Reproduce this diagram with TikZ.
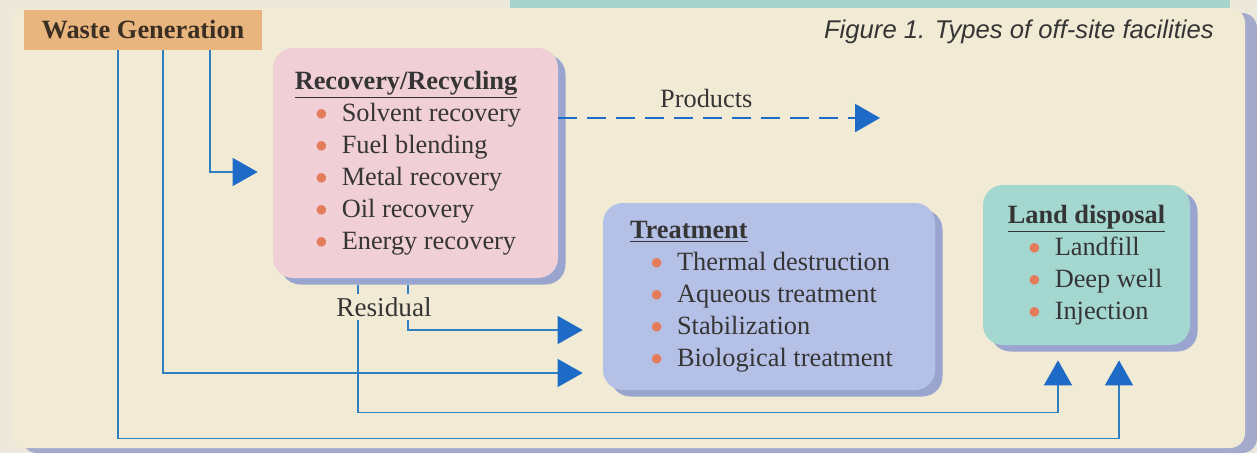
\documentclass[tikz,border=0pt]{standalone}
\usepackage{fontspec}
\setmainfont{Liberation Serif}
\newfontfamily\capfont{Liberation Sans}
\newfontfamily\dotfont{DejaVu Sans}
\usetikzlibrary{arrows.meta,shadows}

\definecolor{paper}{HTML}{ECE8DC}
\definecolor{panelcream}{HTML}{F1EBD6}
\definecolor{panelshadow}{HTML}{A3AACB}
\definecolor{stripteal}{HTML}{A8D4CC}
\definecolor{wasteorange}{HTML}{E9B57E}
\definecolor{wastebrown}{HTML}{3B2E22}
\definecolor{recovpink}{HTML}{F1CFD7}
\definecolor{treatblue}{HTML}{B5C0E6}
\definecolor{landteal}{HTML}{A3D7D0}
\definecolor{boxshadow}{HTML}{9AA5CF}
\definecolor{lineblue}{HTML}{2E80C0}
\definecolor{arrowblue}{HTML}{1D6BC6}
\definecolor{dotorange}{HTML}{E47B5A}
\definecolor{inkgray}{HTML}{353535}

\newcommand{\factitle}[1]{\underline{\textbf{#1}}}
\newcommand{\facdot}{\raisebox{2.1pt}{\textcolor{dotorange}{\dotfont\fontsize{7}{7}\selectfont ●}}}
\newcommand{\facitem}[1]{\hspace*{0.94cm}\llap{\facdot\hspace{0.3cm}}#1}

\tikzset{
    facility/.style={rounded corners=0.4cm, text=inkgray, align=left,
        font=\fontsize{15}{18.2}\selectfont,
        drop shadow={shadow xshift=0.15cm, shadow yshift=-0.13cm, fill=boxshadow, opacity=1}},
    flow/.style={draw=lineblue, line width=0.8pt, shorten >=0.3cm,
        -{Triangle[length=0.5cm, width=0.56cm, color=arrowblue]}},
    products/.style={draw=arrowblue, line width=0.05cm, dash pattern=on 0.38cm off 0.2cm,
        -{Triangle[length=0.5cm, width=0.56cm, color=arrowblue]}}
}

\begin{document}
\begin{tikzpicture}
    \useasboundingbox (0,0) rectangle (25.14,-9.06);
    \fill[paper] (0,0) rectangle (25.14,-9.06);
    \fill[stripteal] (10.2,0) rectangle (24.6,-0.2);
    \path[fill=panelcream, rounded corners=0.3cm,
        drop shadow={shadow xshift=0.24cm, shadow yshift=-0.1cm, fill=panelshadow, opacity=1}]
        (0.2,-0.16) rectangle (24.9,-8.96);

    \node[fill=wasteorange, minimum width=4.76cm, minimum height=0.8cm, text=wastebrown,
        font=\fontsize{15}{18}\selectfont\bfseries] (waste) at (2.86,-0.60) {Waste Generation};
    \node[anchor=base east, text=inkgray, font=\capfont\itshape\fontsize{14.6}{17}\selectfont]
        (caption) at (24.4,-0.76) {Figure 1. Types of off-site facilities};

    \node[facility, fill=recovpink, minimum width=5.7cm, minimum height=4.6cm] (recov) at (8.31,-3.26)
        {\factitle{Recovery/Recycling}\hspace*{0.38cm}\\ \facitem{Solvent recovery}\\ \facitem{Fuel blending}\\
         \facitem{Metal recovery}\\ \facitem{Oil recovery}\\ \facitem{Energy recovery}};
    \node[facility, fill=treatblue, minimum width=6.64cm, minimum height=3.74cm] (treat) at (15.38,-5.93)
        {\factitle{Treatment}\\ \facitem{Thermal destruction}\\ \facitem{Aqueous treatment}\\
         \facitem{Stabilization}\\ \facitem{Biological treatment}\hspace*{0.3cm}};
    \node[facility, fill=landteal, minimum width=4.14cm, minimum height=3.2cm] (land) at (21.73,-5.30)
        {\factitle{Land disposal}\\ \facitem{Landfill}\\ \facitem{Deep well}\\ \facitem{Injection}};

    \coordinate (prodend) at (17.6,-2.36);
    \draw[products] ([yshift=0.9cm]recov.east) -- node[pos=0.46, above=1.7pt, text=inkgray,
        font=\fontsize{15}{18}\selectfont] (prodlabel) {Products} (prodend);

    \draw[flow] ([xshift=1.34cm]waste.south) |- ([yshift=-0.18cm]recov.west);
    \draw[flow, shorten >=0.4cm] ([xshift=0.4cm]waste.south) |- ([yshift=-1.53cm]treat.west);
    \draw[flow, shorten >=0.4cm] ([xshift=-0.15cm, yshift=-0.13cm]recov.south) |- ([yshift=-0.67cm]treat.west);
    \draw[flow] ([xshift=-0.5cm]waste.south) -- ++(0,-7.76) -| ([xshift=0.65cm]land.south);
    \draw[flow] ([xshift=-1.15cm, yshift=-0.13cm]recov.south) -- ++(0,-2.55) -| ([xshift=-0.57cm]land.south);

    \node[fill=panelcream, inner sep=2pt, text=inkgray, font=\fontsize{15.5}{18}\selectfont]
        (residual) at (7.68,-6.14) {Residual};
\end{tikzpicture}
\end{document}
